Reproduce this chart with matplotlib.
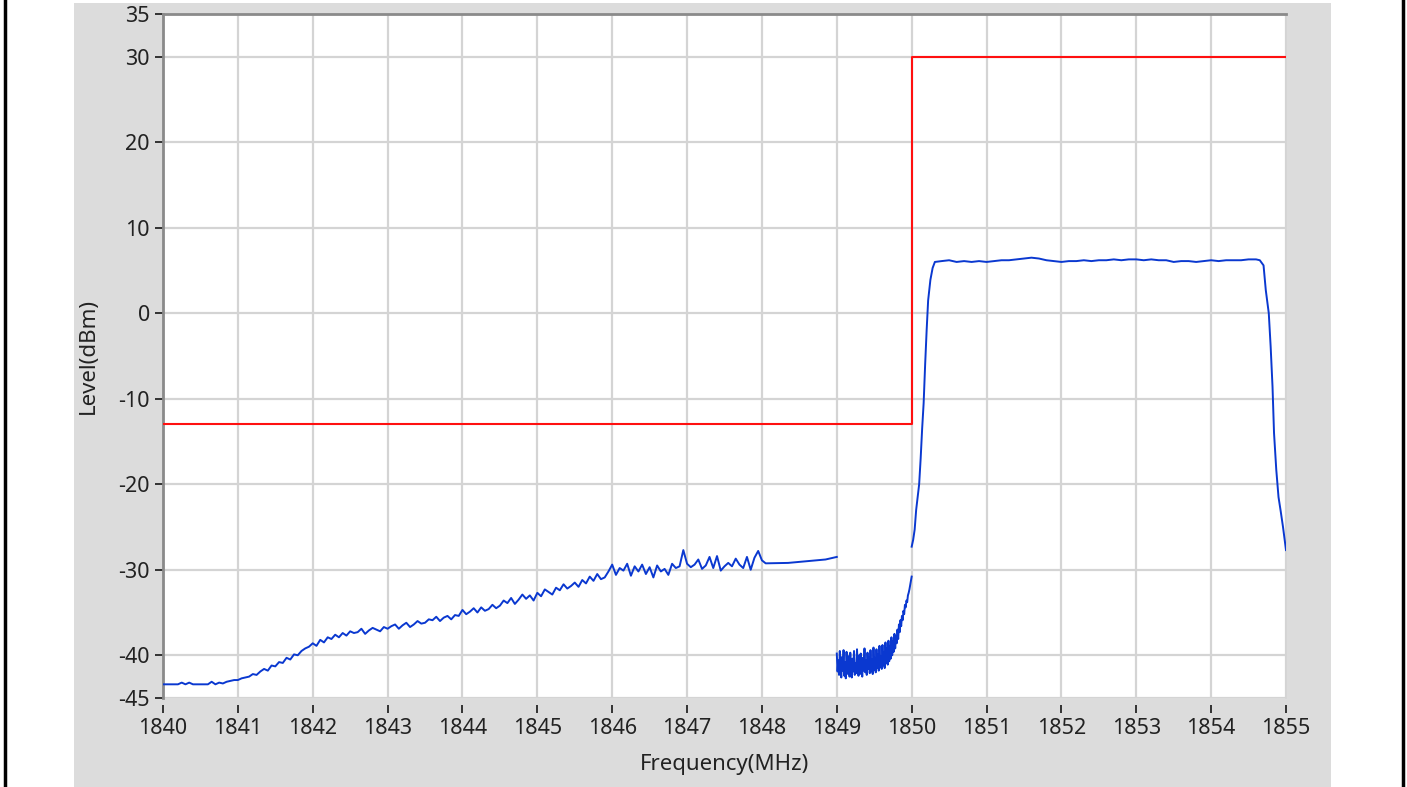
import numpy as np
import matplotlib
matplotlib.use("Agg")
import matplotlib.pyplot as plt
from matplotlib.patches import Rectangle

# --- data ------------------------------------------------------------------
# limit mask (red): -13 dBm below 1850 MHz, 30 dBm above
mask_freq = [1840, 1850, 1850, 1855]
mask_level = [-13, -13, 30, 30]

# lower sideband trace 1840..1848 MHz, 0.05 MHz steps
low_level = [
    -43.4, -43.4, -43.4, -43.4, -43.4, -43.2, -43.4, -43.2, -43.4, -43.4,
    -43.4, -43.4, -43.4, -43.1, -43.4, -43.2, -43.3, -43.1, -43.0, -42.9,
    -42.9, -42.7, -42.6, -42.5, -42.2, -42.3, -41.9, -41.6, -41.8, -41.2,
    -41.3, -40.8, -40.9, -40.3, -40.5, -39.9, -40.0, -39.5, -39.2, -39.0,
    -38.6, -38.9, -38.2, -38.5, -37.9, -38.1, -37.6, -37.9, -37.4, -37.7,
    -37.2, -37.4, -37.3, -36.9, -37.5, -37.1, -36.8, -37.0, -37.2, -36.7,
    -36.9, -36.6, -36.4, -36.9, -36.5, -36.2, -36.7, -36.4, -36.0, -36.3,
    -36.2, -35.8, -35.9, -35.5, -36.0, -35.6, -35.4, -35.8, -35.3, -35.4,
    -34.7, -35.2, -34.9, -34.5, -35.0, -34.4, -34.8, -34.6, -34.1, -34.5,
    -34.2, -33.6, -33.9, -33.3, -34.0, -33.5, -32.9, -33.4, -33.0, -33.6,
    -32.7, -33.1, -32.3, -32.6, -32.9, -32.1, -32.4, -31.7, -32.2, -31.9,
    -31.5, -32.0, -31.2, -31.6, -30.8, -31.3, -30.5, -31.1, -30.9, -30.2,
    -29.4, -30.6, -29.8, -30.1, -29.3, -30.7, -29.6, -30.2, -29.4, -30.5,
    -29.7, -30.9, -29.5, -30.2, -29.9, -30.6, -29.3, -29.8, -29.6, -27.7,
    -29.3, -29.7, -29.4, -28.8, -29.9, -29.5, -28.5, -29.8, -28.4, -30.1,
    -29.6, -29.2, -29.6, -28.7, -29.4, -29.8, -28.5, -30.0, -28.6, -27.8,
    -28.9,
]
# sparse tail between 1848 and 1849 MHz
tail_freq = [1848.05, 1848.35, 1848.6, 1848.85, 1849.0]
tail_level = [-29.25, -29.2, -29.0, -28.8, -28.5]

# noisy band 1849..1850 MHz, 0.01 MHz steps
band_level = [
    -39.8, -41.9, -40.6, -42.3, -39.5, -41.6, -42.6, -40.2, -41.8, -39.4,
    -42.4, -40.8, -42.7, -39.6, -41.5, -42.2, -40.1, -42.5, -39.7, -41.3,
    -42.6, -40.4, -41.9, -39.5, -42.3, -40.9, -42.1, -39.3, -41.7, -42.4,
    -40.0, -42.2, -39.8, -41.4, -42.5, -40.3, -41.8, -39.2, -42.0, -40.6,
    -42.3, -39.7, -41.6, -40.2, -42.1, -39.4, -41.9, -40.5, -42.2, -39.1,
    -41.7, -40.3, -42.0, -39.3, -41.5, -39.9, -41.8, -38.9, -41.4, -40.1,
    -41.6, -38.8, -41.2, -39.6, -41.5, -38.5, -40.9, -39.2, -41.1, -38.3,
    -40.7, -38.9, -40.4, -37.9, -40.0, -38.4, -39.6, -37.5, -39.2, -37.8,
    -38.6, -37.0, -38.1, -36.4, -37.3, -35.9, -36.6, -35.4, -35.9, -34.8,
    -35.2, -34.1, -34.4, -33.6, -33.8, -33.0, -32.7, -32.3, -31.8, -31.3,
    -30.8,
]

# carrier 1850..1855 MHz
rise_freq = [1850.0, 1850.02, 1850.04, 1850.06, 1850.08, 1850.1, 1850.12,
             1850.14, 1850.16, 1850.18, 1850.2, 1850.22, 1850.25, 1850.28, 1850.31]
rise_level = [-27.3, -26.5, -25.3, -23.0, -21.5, -20.0, -17.0,
              -13.5, -10.5, -6.0, -2.0, 1.5, 3.9, 5.3, 6.0]
# flat top 1850.4..1854.6 MHz, 0.1 MHz steps
flat_level = [
    6.1, 6.2, 6.0, 6.1, 6.0, 6.1, 6.0, 6.1, 6.2, 6.2,
    6.3, 6.4, 6.5, 6.4, 6.2, 6.1, 6.0, 6.1, 6.1, 6.2,
    6.1, 6.2, 6.2, 6.3, 6.2, 6.3, 6.3, 6.2, 6.3, 6.2,
    6.2, 6.0, 6.1, 6.1, 6.0, 6.1, 6.2, 6.1, 6.2, 6.2,
    6.2, 6.3, 6.3,
]
fall_freq = [1854.65, 1854.7, 1854.73, 1854.77, 1854.795, 1854.82,
             1854.84, 1854.87, 1854.9, 1854.93, 1854.96, 1855.0]
fall_level = [6.2, 5.6, 2.7, 0.0, -3.9, -8.6, -14.0, -18.3, -21.5, -23.2, -25.0, -27.7]

x_ticks = list(range(1840, 1856))
y_ticks = [35, 30, 20, 10, 0, -10, -20, -30, -40, -45]

# --- assemble traces -------------------------------------------------------
low_freq = np.linspace(1840, 1848, len(low_level))
band_freq = np.linspace(1849, 1850, len(band_level))
flat_freq = np.linspace(1850.4, 1854.6, len(flat_level))

seg_a_f = np.concatenate([low_freq, tail_freq])
seg_a_l = np.concatenate([low_level, tail_level])
seg_c_f = np.concatenate([rise_freq, flat_freq, fall_freq])
seg_c_l = np.concatenate([rise_level, flat_level, fall_level])

W, H = 1407, 787
plt.rcParams["font.family"] = ["Noto Sans", "DejaVu Sans"]
plt.rcParams["axes.unicode_minus"] = False
fig = plt.figure(figsize=(W / 100, H / 100), dpi=100, facecolor="white")

# background: grey panel and the two black frame lines
bg = fig.add_axes([0, 0, 1, 1], zorder=-10)
bg.set_xlim(0, W)
bg.set_ylim(H, 0)
bg.axis("off")
bg.add_patch(Rectangle((74, 3), 1331 - 74, H - 3, facecolor="#dcdcdc", edgecolor="none"))
for xp in (5, 1403):
    bg.plot([xp, xp], [0, H], color="black", lw=2.5)

ax = fig.add_axes([163 / W, 89 / H, (1286 - 163) / W, (698 - 14) / H])
ax.set_facecolor("white")

ax.plot(mask_freq, mask_level, color="#ff1010", lw=1.5, zorder=3)
blue = "#0a38d0"
ax.plot(seg_a_f, seg_a_l, color=blue, lw=1.4, zorder=4)
ax.plot(band_freq, band_level, color=blue, lw=1.4, zorder=4)
ax.plot(seg_c_f, seg_c_l, color=blue, lw=1.4, zorder=4)

ax.set_xlim(1840, 1855)
ax.set_ylim(-45, 35)
ax.set_xticks(x_ticks)
ax.set_yticks(y_ticks)
ax.grid(True, color="#d4d4d4", lw=1.6, zorder=1)
ax.set_axisbelow(True)

ax.spines["left"].set_color("#8a8a8a")
ax.spines["left"].set_linewidth(2)
ax.spines["top"].set_color("#8a8a8a")
ax.spines["top"].set_linewidth(2)
ax.spines["right"].set_color("#d4d4d4")
ax.spines["right"].set_linewidth(1.2)
ax.spines["bottom"].set_color("none")
ax.spines["bottom"].set_position(("outward", 5))

ax.tick_params(axis="y", length=5.5, width=1.4, color="#333333",
               labelsize=15.5, labelcolor="#222222", pad=4)
ax.tick_params(axis="x", length=5.5, width=1.4, color="#333333",
               labelsize=15.5, labelcolor="#222222", pad=4)

ax.set_xlabel("Frequency(MHz)", fontsize=16, color="#222222", labelpad=11)
ax.set_ylabel("Level(dBm)", fontsize=16, color="#222222", labelpad=14)

fig.savefig("out.png", dpi=100, facecolor="white")
